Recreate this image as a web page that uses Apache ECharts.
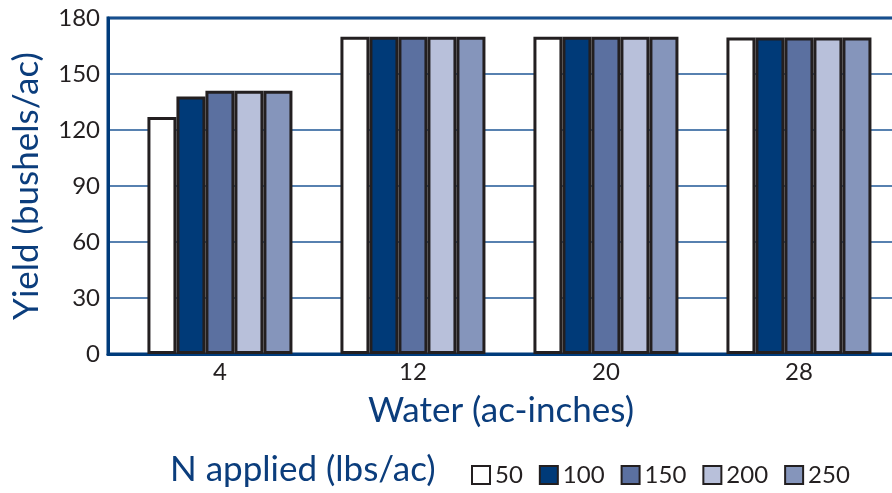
<!DOCTYPE html>
<html>
<head>
<meta charset="utf-8">
<script src="https://cdn.jsdelivr.net/npm/echarts@6/dist/echarts.min.js"></script>
<style>
html,body{margin:0;padding:0;background:#fff;}
#chart{width:892px;height:493px;}
</style>
</head>
<body>
<div id="chart"></div>
<script>
var water = [4, 12, 20, 28];
var nRates = ['50', '100', '150', '200', '250'];
var yield50  = [127, 170, 170, 169.5];
var yield100 = [138, 170, 170, 169.5];
var yield150 = [141, 170, 170, 169.5];
var yield200 = [141, 170, 170, 169.5];
var yield250 = [141, 170, 170, 169.5];

var colors = ['#ffffff', '#003a78', '#5b70a0', '#b8c0da', '#8595bb'];
var allYields = [yield50, yield100, yield150, yield200, yield250];
var font = 'Lato, "Open Sans", sans-serif';
var blue = '#0b3d7c';

var series = nRates.map(function (name, i) {
  return {
    name: name,
    type: 'bar',
    barWidth: 29,
    barGap: '0%',
    data: water.map(function (w, j) { return [w, allYields[i][j]]; }),
    itemStyle: { color: colors[i], borderColor: '#231f20', borderWidth: 3 }
  };
});

var chart = echarts.init(document.getElementById('chart'));
chart.setOption({
  animation: false,
  backgroundColor: '#fff',
  grid: { left: 108, right: -2, top: 18, bottom: 139, outerBoundsMode: 'none', containLabel: false, show: true, borderColor: '#003b7b', borderWidth: 3, backgroundColor: 'transparent' },
  xAxis: {
    type: 'value',
    min: -0.64, max: 31.94,
    splitLine: { show: false },
    axisTick: { show: false },
    axisLine: { show: true, onZero: false, lineStyle: { color: '#003b7b', width: 3 } },
    axisLabel: { customValues: water, color: '#231f20', fontSize: 24, fontFamily: font, margin: 6 },
    name: 'Water (ac-inches)',
    nameLocation: 'middle',
    nameGap: 39,
    nameTextStyle: { color: blue, fontSize: 35, fontFamily: font }
  },
  yAxis: {
    type: 'value',
    min: 0, max: 180, interval: 30,
    axisLine: { show: true, onZero: false, lineStyle: { color: '#003b7b', width: 3 } },
    axisTick: { show: false },
    axisLabel: { color: '#231f20', fontSize: 24, fontFamily: font, margin: 8 },
    splitLine: { show: true, lineStyle: { color: '#1f5796', width: 1.5 } },
    name: 'Yield (bushels/ac)',
    nameLocation: 'middle',
    nameGap: 64,
    nameTextStyle: { color: blue, fontSize: 35, fontFamily: font }
  },
  legend: {
    left: 466, top: 458,
    itemWidth: 18, itemHeight: 18,
    itemGap: 16,
    icon: 'rect',
    textStyle: { color: '#231f20', fontSize: 24, fontFamily: font },
    data: nRates
  },
  graphic: [{
    type: 'text',
    left: 170, top: 452,
    style: { text: 'N applied (lbs/ac)', fill: blue, font: '35px ' + font }
  }],
  series: series
});
</script>
</body>
</html>
